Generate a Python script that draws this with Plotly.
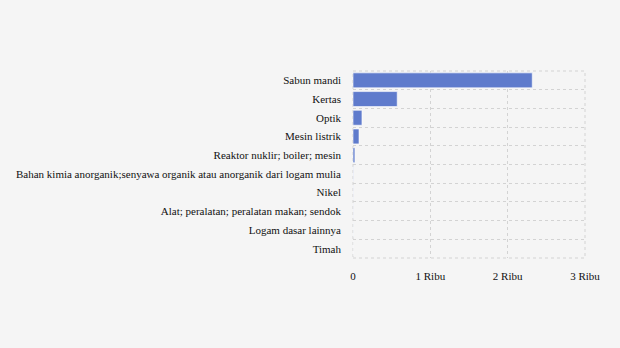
import plotly.graph_objects as go

categories = [
    "Sabun mandi",
    "Kertas",
    "Optik",
    "Mesin listrik",
    "Reaktor nuklir; boiler; mesin",
    "Bahan kimia anorganik;senyawa organik atau anorganik dari logam mulia",
    "Nikel",
    "Alat; peralatan; peralatan makan; sendok",
    "Logam dasar lainnya",
    "Timah",
]
values = [2318, 572, 116, 78, 25, 3, 2, 1.5, 1, 0.5]

tick_vals = [0, 1000, 2000, 3000]
tick_text = ["0", "1 Ribu", "2 Ribu", "3 Ribu"]

GRID = "#d3d3d3"
DASH = "3px,3px"

fig = go.Figure(
    go.Bar(
        x=values,
        y=categories,
        orientation="h",
        marker=dict(color="#5f7bcc", line=dict(color="rgba(255,255,255,0.6)", width=1)),
    )
)

fig.update_layout(
    width=620,
    height=348,
    margin=dict(l=353, r=35, t=71, b=90),
    paper_bgcolor="#f5f5f5",
    plot_bgcolor="#f5f5f5",
    font=dict(family="Liberation Serif, Times New Roman, serif", size=11, color="#111"),
    bargap=0.2,
    showlegend=False,
    shapes=[
        dict(
            type="rect", xref="paper", yref="paper", x0=0, x1=1, y0=0, y1=1,
            line=dict(color=GRID, width=1, dash=DASH), layer="below",
        )
    ],
)
fig.update_xaxes(
    range=[0, 3000],
    tickvals=tick_vals,
    ticktext=tick_text,
    showgrid=True,
    gridcolor=GRID,
    griddash=DASH,
    gridwidth=1,
    zeroline=False,
    showline=False,
    ticks="",
    ticklabelstandoff=10,
)
fig.update_yaxes(
    autorange="reversed",
    showgrid=True,
    gridcolor=GRID,
    griddash=DASH,
    gridwidth=1,
    tickson="boundaries",
    ticks="",
    ticklabelstandoff=11,
    showline=False,
    zeroline=False,
)

fig.write_html("out.html")
